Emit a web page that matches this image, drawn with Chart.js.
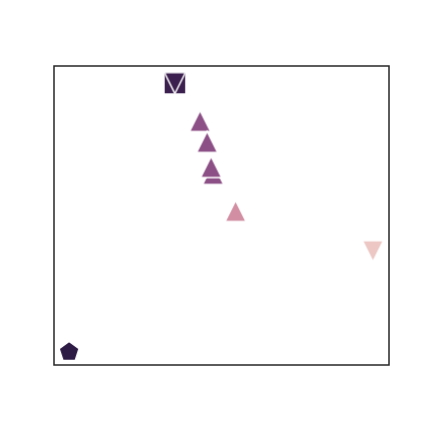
<!DOCTYPE html>
<html>
<head>
<meta charset="utf-8">
<script src="https://cdn.jsdelivr.net/npm/chart.js@4/dist/chart.umd.min.js"></script>
<style>
html,body{margin:0;padding:0;background:#fff;}
#wrap{width:432px;height:432px;}
</style>
</head>
<body>
<div id="wrap"><canvas id="c" width="432" height="432"></canvas></div>
<script>
// Data (unitless positions on hidden axes 0..100)
const pointX = [36.1, 36.1, 43.6, 45.7, 47.5, 46.9, 54.2, 95.2, 4.5];
const pointY = [94.3, 94.3, 81.6, 74.6, 63.9, 66.2, 51.5, 38.1, 4.7];
const pointShape = ['square', 'triangleDown', 'triangle', 'triangle', 'triangle', 'triangle', 'triangle', 'triangleDown', 'pentagon'];
const pointShade = ['#3b1f4e', '#3b1f4e', '#8c4f86', '#8c4f86', '#8c4f86', '#8c4f86', '#d28fa3', '#ecc7c4', '#2d1a45'];

function makeMarker(shape, color, size) {
  const pad = 3;
  const c = document.createElement('canvas');
  const s = size + pad * 2;
  c.width = s; c.height = s;
  const g = c.getContext('2d');
  const cx = s / 2, cy = s / 2, h = size / 2;
  g.beginPath();
  if (shape === 'square') {
    g.rect(cx - h, cy - h, size, size);
  } else if (shape === 'triangle') {
    g.moveTo(cx, cy - h); g.lineTo(cx + h, cy + h); g.lineTo(cx - h, cy + h); g.closePath();
  } else if (shape === 'triangleDown') {
    g.moveTo(cx, cy + h); g.lineTo(cx + h, cy - h); g.lineTo(cx - h, cy - h); g.closePath();
  } else if (shape === 'pentagon') {
    for (let i = 0; i < 5; i++) {
      const a = -Math.PI / 2 + i * 2 * Math.PI / 5;
      const px = cx + Math.cos(a) * h * 1.05, py = cy + Math.sin(a) * h * 1.05 + 1;
      if (i === 0) g.moveTo(px, py); else g.lineTo(px, py);
    }
    g.closePath();
  }
  g.fillStyle = color;
  g.fill();
  g.lineWidth = 1.5;
  g.strokeStyle = '#ffffff';
  g.stroke();
  return c;
}

const sizes = {square: 22, triangle: 21, triangleDown: 21, pentagon: 20};
const markerImages = pointShape.map((s, i) => makeMarker(s, pointShade[i], sizes[s]));

const framePlugin = {
  id: 'frame',
  afterDraw(chart) {
    const a = chart.chartArea, g = chart.ctx;
    g.save();
    g.strokeStyle = '#262626';
    g.lineWidth = 1.5;
    g.strokeRect(a.left, a.top, a.right - a.left, a.bottom - a.top);
    g.restore();
  }
};

new Chart(document.getElementById('c'), {
  type: 'scatter',
  data: {
    datasets: [{
      data: pointX.map((x, i) => ({x: x, y: pointY[i]})),
      pointStyle: markerImages,
      backgroundColor: pointShade,
      borderColor: '#ffffff',
      clip: false
    }]
  },
  options: {
    responsive: false,
    animation: false,
    devicePixelRatio: 1,
    layout: {padding: {left: 54, top: 66, right: 43, bottom: 67}},
    plugins: {legend: {display: false}, tooltip: {enabled: false}},
    scales: {
      x: {type: 'linear', min: 0, max: 100, display: false},
      y: {type: 'linear', min: 0, max: 100, display: false}
    }
  },
  plugins: [framePlugin]
});
</script>
</body>
</html>
